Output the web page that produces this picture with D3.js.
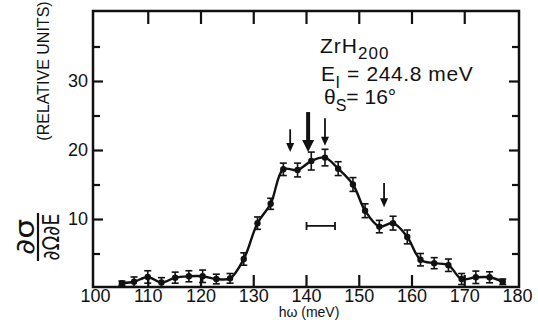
<!DOCTYPE html>
<html>
<head>
<meta charset="utf-8">
<script src="https://cdn.jsdelivr.net/npm/d3@7"></script>
<style>
    body { margin: 0; background: white; }
    svg { display: block; font-family: "Liberation Sans", Arial, sans-serif; }
</style>
</head>
<body>
<div id="chart"></div>
<script>
// Measured points (energy transfer in meV, cross section in relative units)
const energy = [105.1, 107.4, 110.0, 112.6, 115.2, 117.8, 120.4, 123.0, 125.6, 128.2,
    130.8, 133.3, 135.7, 138.4, 141.0, 143.6, 146.1, 148.9, 151.2, 153.9,
    156.5, 159.2, 161.7, 164.3, 167.0, 169.5, 172.2, 174.8, 177.3];
const intensity = [0.7, 0.9, 1.6, 0.8, 1.5, 1.7, 1.7, 1.3, 1.4, 4.2,
    9.4, 12.2, 17.2, 17.1, 18.4, 18.9, 17.3, 15.0, 11.2, 8.9,
    9.4, 7.4, 4.1, 3.6, 3.3, 1.3, 1.55, 1.55, 0.9];
const errors = [0.3, 0.7, 0.9, 0.7, 0.8, 0.8, 0.9, 0.7, 0.7, 0.9,
    0.9, 0.8, 0.9, 1.0, 1.3, 1.2, 1.0, 1.0, 1.0, 0.9,
    1.0, 1.0, 0.9, 0.8, 0.9, 0.8, 0.9, 0.8, 0.4];

// Arrows marking peak positions: energy, top value, tip value, heavy?
const arrowE = [137.0, 140.4, 143.6, 154.8];
const arrowTop = [23.0, 25.5, 24.6, 15.2];
const arrowTip = [19.7, 19.7, 20.6, 11.7];
const arrowHeavy = [false, true, false, false];

// Resolution bar
const resolution = [140.1, 145.5];
const resolutionLevel = 9.0;

const xTicks = [100, 110, 120, 130, 140, 150, 160, 170, 180];
const yTicks = [5, 10, 15, 20, 25, 30, 35];
const yLabels = [10, 20, 30];

const width = 538, height = 320;
const frame = {left: 93, right: 519, top: 11, bottom: 287};

let svg = d3.select("#chart").append("svg")
    .attr("width", width)
    .attr("height", height);

let x = d3.scaleLinear().domain([100, 180]).range([95, 517]);
let y = d3.scaleLinear().domain([0, 40]).range([288, 12]);

// Frame
svg.append("rect")
    .attr("x", frame.left)
    .attr("y", frame.top)
    .attr("width", frame.right - frame.left)
    .attr("height", frame.bottom - frame.top)
    .attr("fill", "none")
    .attr("stroke", "#111")
    .attr("stroke-width", 2.5);

// Bottom axis, ticks pointing inward
let xaxis_bottom = svg.append("g")
    .attr("transform", `translate(0,${frame.bottom})`)
    .call(d3.axisBottom(x).tickValues(xTicks).tickSize(-12).tickPadding(2).tickFormat(d3.format("d")));
xaxis_bottom.select(".domain").remove();
xaxis_bottom.selectAll(".tick line")
    .attr("stroke", "#111")
    .attr("stroke-width", 2.2)
    .attr("y2", d => (d === 100 || d === 180) ? 0 : -12);
xaxis_bottom.selectAll(".tick text")
    .attr("fill", "#111")
    .style("font-family", "'Liberation Sans Narrow', 'Liberation Sans', sans-serif")
    .style("font-size", "18px");

// Top axis, ticks only
let xaxis_top = svg.append("g")
    .attr("transform", `translate(0,${frame.top})`)
    .call(d3.axisTop(x).tickValues(xTicks.slice(1, -1)).tickSize(-13).tickFormat(""));
xaxis_top.select(".domain").remove();
xaxis_top.selectAll(".tick line").attr("stroke", "#111").attr("stroke-width", 2.2);

// Left axis, longer ticks at labelled values
let yaxis_left = svg.append("g")
    .attr("transform", `translate(${frame.left},0)`)
    .call(d3.axisLeft(y).tickValues(yTicks).tickSize(-10).tickPadding(5)
        .tickFormat(d => yLabels.includes(d) ? d : ""));
yaxis_left.select(".domain").remove();
yaxis_left.selectAll(".tick line")
    .attr("stroke", "#111")
    .attr("stroke-width", 2.2)
    .attr("x2", d => yLabels.includes(d) ? 10 : 7);
yaxis_left.selectAll(".tick text")
    .attr("fill", "#111")
    .style("font-size", "18px");

// Right axis
let yaxis_right = svg.append("g")
    .attr("transform", `translate(${frame.right},0)`)
    .call(d3.axisRight(y).tickValues(yTicks).tickSize(-10).tickFormat(""));
yaxis_right.select(".domain").remove();
yaxis_right.selectAll(".tick line")
    .attr("stroke", "#111")
    .attr("stroke-width", 2.2)
    .attr("x2", d => yLabels.includes(d) ? -10 : -7);

// Axis titles
svg.append("text")
    .attr("x", 309)
    .attr("y", 317)
    .attr("text-anchor", "middle")
    .style("font-size", "14px")
    .attr("fill", "#111")
    .text("hω (meV)");

svg.append("text")
    .attr("transform", "translate(49,71) rotate(-90)")
    .attr("text-anchor", "middle")
    .style("font-family", "'Liberation Sans Narrow', 'Liberation Sans', sans-serif")
    .style("font-size", "16px")
    .attr("fill", "#111")
    .text("(RELATIVE UNITS)");

let frac = svg.append("g").attr("transform", "translate(38,237) rotate(-90)");
frac.append("text")
    .attr("y", -4)
    .attr("text-anchor", "middle")
    .attr("textLength", 36)
    .attr("lengthAdjust", "spacingAndGlyphs")
    .style("font-family", "'DejaVu Sans', sans-serif")
    .style("font-size", "26px")
    .attr("fill", "#111")
    .text("∂σ");
frac.append("line")
    .attr("x1", -24).attr("x2", 24)
    .attr("stroke", "#111")
    .attr("stroke-width", 2.2);
frac.append("text")
    .attr("y", 21)
    .attr("text-anchor", "middle")
    .attr("textLength", 47)
    .attr("lengthAdjust", "spacingAndGlyphs")
    .style("font-family", "'DejaVu Sans', sans-serif")
    .style("font-size", "23px")
    .attr("fill", "#111")
    .text("∂Ω∂E");

// Curve through the points
svg.append("path")
    .datum(energy.map((e, i) => [e, intensity[i]]))
    .attr("fill", "none")
    .attr("stroke", "#111")
    .attr("stroke-width", 2.4)
    .attr("d", d3.line().x(d => x(d[0])).y(d => y(d[1])).curve(d3.curveCatmullRom.alpha(0.5)));

// Error bars
let bars = svg.append("g").attr("stroke", "#111").attr("stroke-width", 1.6);
energy.forEach((e, i) => {
    let cx = x(e), lo = y(intensity[i] - errors[i]), hi = y(intensity[i] + errors[i]);
    bars.append("line").attr("x1", cx).attr("x2", cx).attr("y1", lo).attr("y2", hi);
    bars.append("line").attr("x1", cx - 3.5).attr("x2", cx + 3.5).attr("y1", lo).attr("y2", lo);
    bars.append("line").attr("x1", cx - 3.5).attr("x2", cx + 3.5).attr("y1", hi).attr("y2", hi);
});

// Points
svg.append("g")
    .selectAll("circle")
    .data(energy)
    .join("circle")
    .attr("cx", d => x(d))
    .attr("cy", (d, i) => y(intensity[i]))
    .attr("r", 3.2)
    .attr("fill", "#111");

// Arrows
arrowE.forEach((e, i) => {
    let ax = x(e), y0 = y(arrowTop[i]), y1 = y(arrowTip[i]);
    let w = arrowHeavy[i] ? 4 : 1.8, head = arrowHeavy[i] ? 6 : 4, hl = arrowHeavy[i] ? 12 : 9;
    svg.append("line")
        .attr("x1", ax).attr("x2", ax)
        .attr("y1", y0).attr("y2", y1 - hl + 1)
        .attr("stroke", "#111")
        .attr("stroke-width", w);
    svg.append("path")
        .attr("d", `M${ax - head},${y1 - hl} L${ax + head},${y1 - hl} L${ax},${y1} Z`)
        .attr("fill", "#111");
});

// Resolution bar
let ry = y(resolutionLevel);
svg.append("path")
    .attr("d", `M${x(resolution[0])},${ry} H${x(resolution[1])}
        M${x(resolution[0])},${ry - 4} V${ry + 4}
        M${x(resolution[1])},${ry - 4} V${ry + 4}`)
    .attr("fill", "none")
    .attr("stroke", "#111")
    .attr("stroke-width", 1.8);

// Annotation
let note = svg.append("g").attr("fill", "#111").style("font-size", "21px");
let t1 = note.append("text").attr("x", 320).attr("y", 53).style("letter-spacing", "1px");
t1.append("tspan").text("ZrH");
t1.append("tspan").attr("dy", 6).style("font-size", "17px").text("200");

let t2 = note.append("text").attr("x", 321).attr("y", 81).style("letter-spacing", "0.6px");
t2.append("tspan").text("E");
t2.append("tspan").attr("dy", 7).style("font-size", "16px").text("I");
t2.append("tspan").attr("dy", -7).text(" = 244.8 meV");

let t3 = note.append("text").attr("x", 324).attr("y", 104);
t3.append("tspan").text("θ");
t3.append("tspan").attr("dy", 7).style("font-size", "16px").text("S");
t3.append("tspan").attr("dy", -7).text("= 16°");
</script>
</body>
</html>
